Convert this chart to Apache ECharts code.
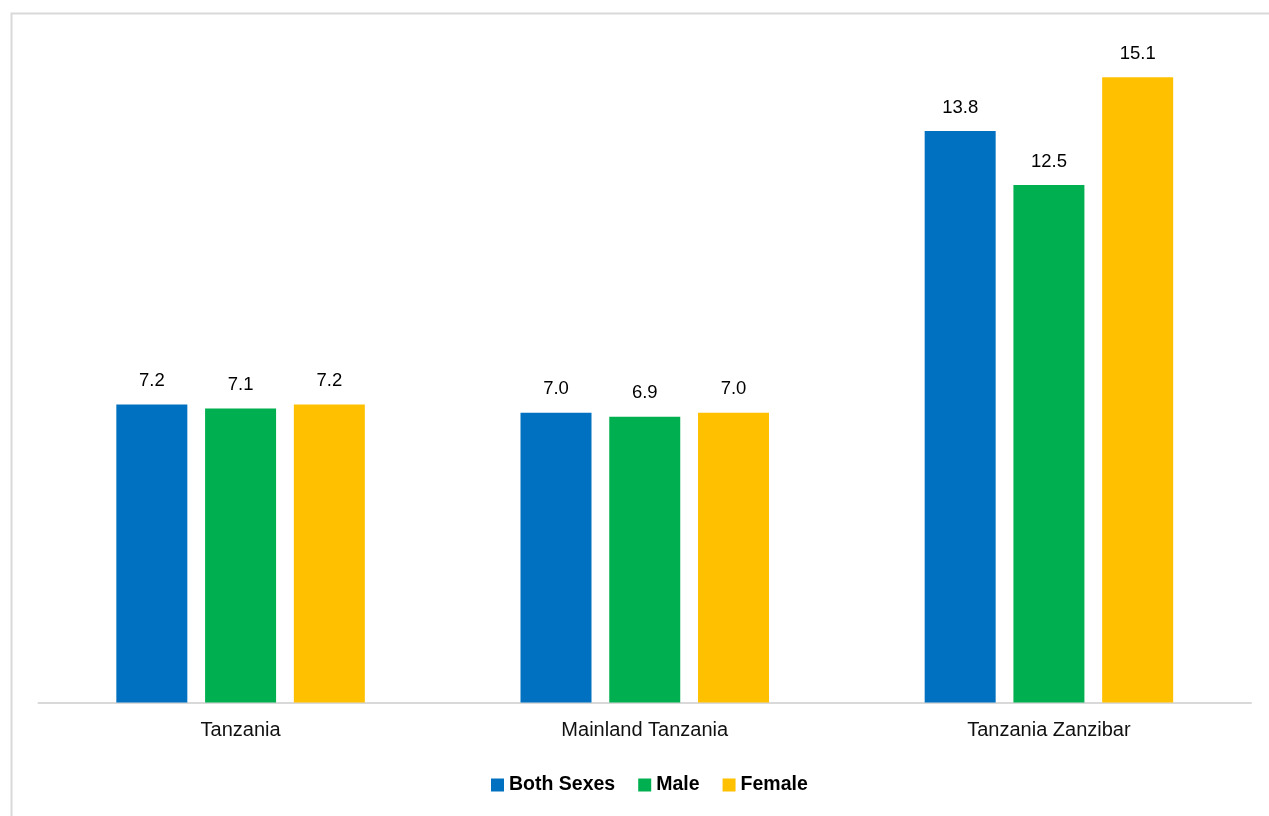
<!DOCTYPE html>
<html><head><meta charset="utf-8">
<script src="https://cdn.jsdelivr.net/npm/echarts@6/dist/echarts.min.js"></script>
<style>html,body{margin:0;padding:0;background:#fff;}#c{width:1269px;height:816px;}</style>
</head><body><div id="c"></div>
<script>
const categories = ['Tanzania', 'Mainland Tanzania', 'Tanzania Zanzibar'];
const seriesNames = ['Both Sexes', 'Male', 'Female'];
const bothSexes = [7.2, 7.0, 13.8];
const male = [7.1, 6.9, 12.5];
const female = [7.2, 7.0, 15.1];
const colors = ['#0070C0', '#00B050', '#FFC000'];

const font = "'Liberation Sans', Arial, sans-serif";
const chart = echarts.init(document.getElementById('c'), null, {renderer: 'canvas'});
const data = [bothSexes, male, female];
chart.setOption({
  animation: false,
  graphic: [{
    type: 'rect', left: 9, top: 11, shape: {width: 1300, height: 900},
    style: {fill: 'none', stroke: '#d9d9d9', lineWidth: 2}, silent: true
  }],
  grid: {left: 38.5, right: 18, top: 40, bottom: 113.5, containLabel: false},
  legend: {
    bottom: 16, left: 486, itemWidth: 13, itemHeight: 13, itemGap: 23,
    icon: 'rect',
    textStyle: {fontFamily: font, fontWeight: 'bold', fontSize: 19.5, color: '#000'},
    data: seriesNames
  },
  xAxis: {
    type: 'category', data: categories,
    axisLine: {lineStyle: {color: '#d9d9d9', width: 2}},
    axisTick: {show: false},
    axisLabel: {fontFamily: font, fontSize: 20, color: '#111', margin: 18}
  },
  yAxis: {type: 'value', min: 0, max: 16, show: false, splitLine: {show: false}},
  series: seriesNames.map((n, i) => ({
    name: n, type: 'bar', data: data[i], barWidth: 71, barGap: '25%',
    itemStyle: {color: colors[i]},
    label: {show: true, position: 'top', distance: 14, formatter: p => p.value.toFixed(1),
      fontFamily: font, fontSize: 18.5, color: '#000'}
  }))
});
</script></body></html>
